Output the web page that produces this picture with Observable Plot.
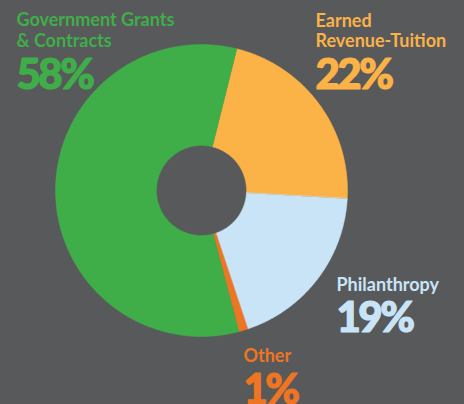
<!DOCTYPE html>
<html>
<head>
<meta charset="utf-8">
<script src="https://cdn.jsdelivr.net/npm/d3@7"></script>
<script src="https://cdn.jsdelivr.net/npm/@observablehq/plot@0.6"></script>
<style>
  html, body { margin: 0; padding: 0; background: #58595b; }
  #chart svg { display: block; }
</style>
</head>
<body>
<div id="chart"></div>
<script>
// ---- data ----
const categories = ["Earned\nRevenue-Tuition", "Philanthropy", "Other", "Government Grants\n& Contracts"];
const values = [22, 19, 1, 58];
const pctLabels = ["22%", "19%", "1%", "58%"];
const colors = ["#fbb247", "#c9e4f7", "#ee7523", "#3fae49"];

// ---- layout ----
const W = 464, H = 404;
const cx = 201, cy = 190, R = 146, r0 = 45;
const startDeg = 14;
const labelPos = [
  {x: 315, nameY: 46.5, pctY: 88},
  {x: 336, nameY: 290.5, pctY: 331.5},
  {x: 243, nameY: 361.5, pctY: 403},
  {x: 16,  nameY: 46,   pctY: 88}
];

const pie = d3.pie().sort(null).value(d => d)
  .startAngle(startDeg * Math.PI / 180)
  .endAngle(startDeg * Math.PI / 180 + 2 * Math.PI);
const arcs = pie(values);

const pts = [];
arcs.forEach((a, i) => {
  const n = Math.max(4, Math.ceil((a.endAngle - a.startAngle) / 0.01));
  for (let k = 0; k <= n; k++) {
    const t = a.startAngle + (a.endAngle - a.startAngle) * k / n;
    pts.push({s: i, x: cx + R * Math.sin(t), y: cy - R * Math.cos(t)});
  }
  for (let k = n; k >= 0; k--) {
    const t = a.startAngle + (a.endAngle - a.startAngle) * k / n;
    pts.push({s: i, x: cx + r0 * Math.sin(t), y: cy - r0 * Math.cos(t)});
  }
});

const labels = categories.map((c, i) => ({
  name: c, pct: pctLabels[i], color: colors[i],
  x: labelPos[i].x, nameY: labelPos[i].nameY, pctY: labelPos[i].pctY
}));

const chart = Plot.plot({
  width: W, height: H,
  margin: 0,
  x: {domain: [0, W], range: [0, W], axis: null},
  y: {domain: [0, H], range: [0, H], axis: null},
  style: {background: "#58595b"},
  marks: [
    Plot.line(pts, {
      x: "x", y: "y", z: "s",
      fill: d => colors[d.s], stroke: d => colors[d.s], strokeWidth: 0.5,
      curve: "linear-closed"
    }),
    Plot.text(labels, {
      x: "x", y: "nameY", text: "name", fill: "color",
      textAnchor: "start", lineAnchor: "bottom", lineHeight: 1.12,
      fontSize: 18, fontWeight: 700, fontFamily: "Lato"
    }),
    Plot.text(labels, {
      x: "x", y: "pctY", text: "pct", fill: "color",
      textAnchor: "start", lineAnchor: "bottom",
      fontSize: 42, fontWeight: 900, fontFamily: "'Lato Black', Lato",
      stroke: "color", strokeWidth: 1.2
    })
  ]
});
const textGroups = chart.querySelectorAll('g[aria-label="text"]');
if (textGroups.length) textGroups[textGroups.length - 1].setAttribute("letter-spacing", "-2.5");
document.getElementById("chart").appendChild(chart);
</script>
</body>
</html>
